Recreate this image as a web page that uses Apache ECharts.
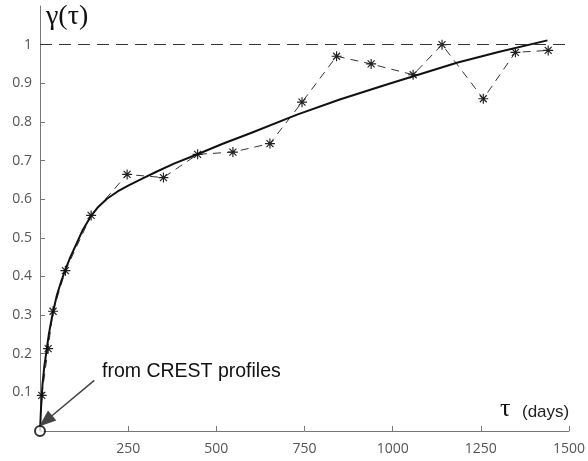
<!DOCTYPE html>
<html lang="en">
<head>
    <meta charset="UTF-8"/>
    <title>gamma(tau)</title>
    <script src="https://cdn.jsdelivr.net/npm/echarts@6/dist/echarts.min.js"></script>
    <style>
        html, body { margin: 0; padding: 0; background: #fff; }
        #main { width: 588px; height: 461px; }
    </style>
</head>
<body>
<div id="main"></div>
<script>
    // 观测点 (星号 + 虚线)
    var obsX = [5, 23, 37, 72, 145, 247, 350, 447, 547, 652, 743, 841, 939, 1058, 1140, 1257, 1348, 1441];
    var obsY = [0.092, 0.213, 0.31, 0.415, 0.558, 0.664, 0.656, 0.716, 0.722, 0.744, 0.851, 0.97, 0.95, 0.922, 1.0, 0.86, 0.98, 0.985];
    // 拟合曲线 (实线), 点
    var fitX = [0, 3, 7, 12, 18, 25, 36, 48, 60, 72, 86, 100, 120, 145, 165, 190, 220, 250, 290, 330, 380, 443, 520, 600, 729, 850, 981, 1100, 1182, 1300, 1439];
    var fitY = [0, 0.06, 0.12, 0.165, 0.205, 0.25, 0.305, 0.352, 0.387, 0.418, 0.45, 0.478, 0.518, 0.557, 0.58, 0.601, 0.62, 0.635, 0.653, 0.671, 0.692, 0.715, 0.744, 0.772, 0.819, 0.858, 0.896, 0.93, 0.953, 0.981, 1.011];
    // 起点 (圆圈)
    var originX = [0];
    var originY = [0];
    // 刻度
    var xTicks = [250, 500, 750, 1000, 1250, 1500];
    var yTicks = [0.1, 0.2, 0.3, 0.4, 0.5, 0.6, 0.7, 0.8, 0.9, 1];
    var refLevel = 1;

    function pairs(xs, ys) {
        var out = [];
        for (var i = 0; i < xs.length; i++) {
            out.push([xs[i], ys[i]]);
        }
        return out;
    }

    // 星号 marker: + 和 x 叠加
    var asterisk = 'path://M-0.7,-6L0.7,-6L0.7,6L-0.7,6Z' +
        'M-6,-0.7L6,-0.7L6,0.7L-6,0.7Z' +
        'M-3.7,-4.7L4.7,3.7L3.7,4.7L-4.7,-3.7Z' +
        'M3.7,-4.7L4.7,-3.7L-3.7,4.7L-4.7,3.7Z';

    var myChart = echarts.init(document.getElementById('main'), null, {renderer: 'canvas'});

    var axisFont = {fontFamily: 'Open Sans', fontSize: 14, color: '#555'};

    myChart.setOption({
        animation: false,
        backgroundColor: '#fff',
        grid: {left: 40, right: 13, top: 6, bottom: 30},
        xAxis: {
            type: 'value',
            min: 0,
            max: 1500,
            interval: 250,
            splitLine: {show: false},
            axisLine: {onZero: false, lineStyle: {color: '#777', width: 1}},
            axisTick: {show: true, inside: true, length: 5, customValues: xTicks, lineStyle: {color: '#777'}},
            axisLabel: Object.assign({
                customValues: xTicks,
                margin: 11,
                formatter: function (v) { return String(v); }
            }, axisFont)
        },
        yAxis: {
            type: 'value',
            min: 0,
            max: 1.1,
            interval: 0.1,
            splitLine: {show: false},
            axisLine: {show: true, onZero: false, lineStyle: {color: '#777', width: 1}},
            axisTick: {show: true, inside: true, length: 5, customValues: yTicks, lineStyle: {color: '#777'}},
            axisLabel: Object.assign({
                customValues: yTicks,
                margin: 8,
                formatter: function (v) { return String(Math.round(v * 10) / 10); }
            }, axisFont)
        },
        series: [
            {
                type: 'line',
                data: pairs(obsX, obsY),
                symbol: asterisk,
                symbolSize: 10,
                itemStyle: {color: '#222'},
                lineStyle: {color: '#333', width: 1, type: [8, 6]},
                z: 3,
                markLine: {
                    silent: true,
                    symbol: 'none',
                    label: {show: false},
                    lineStyle: {color: '#333', width: 1, type: [12, 7]},
                    data: [{yAxis: refLevel}]
                }
            },
            {
                type: 'line',
                data: pairs(fitX, fitY),
                symbol: 'none',
                smooth: false,
                lineStyle: {color: '#111', width: 2, join: 'round'},
                z: 4
            },
            {
                type: 'scatter',
                data: pairs(originX, originY),
                symbol: 'circle',
                symbolSize: 10,
                itemStyle: {color: '#fff', borderColor: '#000', borderWidth: 2},
                z: 6,
                markLine: {
                    silent: true,
                    symbol: ['none', 'triangle'],
                    symbolSize: [13, 17],
                    label: {show: false},
                    lineStyle: {color: '#444', width: 1.5, type: 'solid'},
                    itemStyle: {color: '#444'},
                    data: [[{coord: [154, 0.131]}, {coord: [16, 0.026]}]]
                }
            }
        ],
        graphic: [
            {
                type: 'text', left: 46, top: 3,
                style: {text: 'γ(τ)', font: '28px "Liberation Serif"', fill: '#111'}
            },
            {
                type: 'text', left: 102, top: 362,
                style: {text: 'from CREST profiles', font: '19.5px "Liberation Sans"', fill: '#111'}
            },
            {
                type: 'text', left: 500, top: 396,
                style: {text: 'τ', font: '26px "Liberation Serif"', fill: '#111'}
            },
            {
                type: 'text', left: 522, top: 404,
                style: {text: '(days)', font: '17px "Liberation Sans"', fill: '#222'}
            }
        ]
    });
</script>
</body>
</html>
